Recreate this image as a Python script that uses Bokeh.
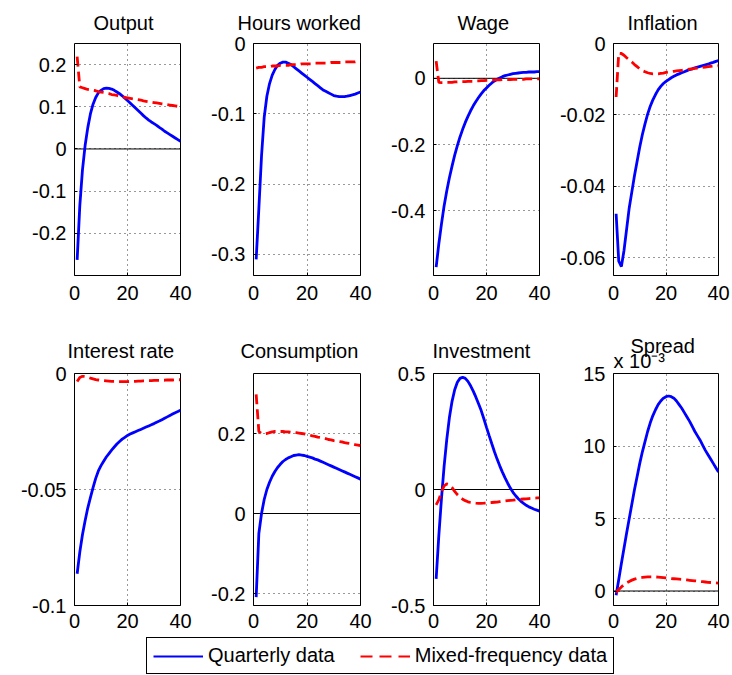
from bokeh.plotting import figure
from bokeh.models import Range1d, FixedTicker, Span, Legend, LegendItem, Title
from bokeh.layouts import column, row
from bokeh.embed import file_html
from bokeh.resources import INLINE

# ---------------- data ----------------
periods = list(range(1, 41))

titles = ["Output", "Hours worked", "Wage", "Inflation",
          "Interest rate", "Consumption", "Investment", "Spread"]

series_names = ["Quarterly data", "Mixed-frequency data"]

output_q = [-0.263, -0.135, -0.05, 0.008, 0.05, 0.083, 0.106, 0.122, 0.133, 0.139,
            0.143, 0.144, 0.1435, 0.142, 0.139, 0.135, 0.131, 0.126, 0.1205, 0.115,
            0.109, 0.103, 0.097, 0.091, 0.085, 0.079, 0.0735, 0.0685, 0.064, 0.060,
            0.056, 0.051, 0.047, 0.042, 0.038, 0.034, 0.030, 0.026, 0.022, 0.018]
output_m = [0.219, 0.147, 0.145, 0.143, 0.141, 0.140, 0.139, 0.138, 0.136, 0.135,
            0.134, 0.132, 0.131, 0.129, 0.128, 0.127, 0.125, 0.124, 0.122, 0.121,
            0.120, 0.119, 0.118, 0.117, 0.116, 0.114, 0.113, 0.112, 0.111, 0.110,
            0.109, 0.108, 0.107, 0.106, 0.105, 0.104, 0.103, 0.102, 0.101, 0.100]

hours_q = [-0.307, -0.235, -0.16, -0.105, -0.075, -0.057, -0.045, -0.037, -0.031, -0.028,
           -0.0265, -0.0265, -0.028, -0.030, -0.033, -0.036, -0.039, -0.042, -0.045, -0.048,
           -0.051, -0.054, -0.057, -0.060, -0.063, -0.066, -0.068, -0.070, -0.072, -0.074,
           -0.075, -0.0755, -0.0757, -0.0755, -0.075, -0.074, -0.073, -0.072, -0.0705, -0.069]
hours_m = [-0.035, -0.034, -0.034, -0.033, -0.033, -0.033, -0.032, -0.032, -0.032, -0.031,
           -0.031, -0.031, -0.031, -0.030, -0.030, -0.030, -0.030, -0.029, -0.029, -0.029,
           -0.029, -0.029, -0.028, -0.028, -0.028, -0.028, -0.028, -0.028, -0.027, -0.027,
           -0.027, -0.027, -0.027, -0.026, -0.026, -0.026, -0.026, -0.026, -0.025, -0.025]

wage_q = [-0.57, -0.50, -0.44, -0.385, -0.34, -0.30, -0.265, -0.232, -0.203, -0.177,
          -0.154, -0.133, -0.115, -0.098, -0.083, -0.070, -0.058, -0.047, -0.037, -0.029,
          -0.021, -0.014, -0.008, -0.003, 0.001, 0.005, 0.008, 0.010, 0.012, 0.014,
          0.015, 0.016, 0.017, 0.018, 0.018, 0.019, 0.019, 0.019, 0.020, 0.020]
wage_m = [0.052, -0.012, -0.013, -0.013, -0.012, -0.012, -0.012, -0.011, -0.011, -0.010,
          -0.010, -0.010, -0.009, -0.009, -0.009, -0.008, -0.008, -0.007, -0.007, -0.006,
          -0.006, -0.006, -0.005, -0.005, -0.005, -0.004, -0.004, -0.004, -0.004, -0.003,
          -0.003, -0.003, -0.003, -0.003, -0.002, -0.002, -0.002, -0.002, -0.002, -0.002]

infl_q = [-0.0477, -0.061, -0.0625, -0.058, -0.052, -0.046, -0.0415, -0.037, -0.033, -0.029,
          -0.0255, -0.0225, -0.0198, -0.0176, -0.0158, -0.0143, -0.013, -0.012, -0.0112, -0.0106,
          -0.0101, -0.0096, -0.0092, -0.0088, -0.0085, -0.0082, -0.0079, -0.0076, -0.0073, -0.0071,
          -0.0068, -0.0066, -0.0064, -0.0062, -0.0060, -0.0058, -0.0055, -0.0053, -0.0050, -0.0048]
infl_m = [-0.015, -0.0027, -0.0028, -0.0033, -0.0040, -0.0046, -0.0052, -0.0059, -0.0065, -0.0071,
          -0.0076, -0.0079, -0.0082, -0.0084, -0.0085, -0.0085, -0.0085, -0.0084, -0.0083, -0.0081,
          -0.0080, -0.0079, -0.0078, -0.0077, -0.0076, -0.0075, -0.0074, -0.0073, -0.0072, -0.0071,
          -0.0070, -0.0069, -0.0068, -0.0067, -0.0066, -0.0065, -0.0064, -0.0063, -0.0063, -0.0062]

rate_q = [-0.0863, -0.077, -0.0695, -0.0635, -0.058, -0.0535, -0.0492, -0.0452, -0.042, -0.0397,
          -0.0378, -0.036, -0.0345, -0.033, -0.0317, -0.0304, -0.0293, -0.0283, -0.0275, -0.0267,
          -0.0261, -0.0256, -0.0251, -0.0246, -0.0241, -0.0236, -0.0231, -0.0226, -0.0221, -0.0216,
          -0.0210, -0.0205, -0.0199, -0.0193, -0.0187, -0.0181, -0.0175, -0.0169, -0.0164, -0.0158]
rate_m = [-0.0035, -0.0017, -0.0012, -0.0013, -0.0016, -0.0020, -0.0023, -0.0026, -0.0028, -0.0030,
          -0.0031, -0.0032, -0.0033, -0.0034, -0.0034, -0.0035, -0.0035, -0.0035, -0.0035, -0.0035,
          -0.0034, -0.0034, -0.0034, -0.0033, -0.0033, -0.0032, -0.0032, -0.0031, -0.0031, -0.0030,
          -0.0030, -0.0030, -0.0029, -0.0029, -0.0028, -0.0028, -0.0028, -0.0027, -0.0027, -0.0027]

cons_q = [-0.209, -0.05, 0.0, 0.035, 0.060, 0.078, 0.093, 0.105, 0.115, 0.123,
          0.130, 0.135, 0.139, 0.142, 0.145, 0.146, 0.147, 0.146, 0.145, 0.143,
          0.141, 0.139, 0.136, 0.134, 0.131, 0.128, 0.125, 0.122, 0.119, 0.116,
          0.113, 0.110, 0.107, 0.104, 0.101, 0.098, 0.095, 0.092, 0.089, 0.086]
cons_m = [0.298, 0.205, 0.200, 0.199, 0.200, 0.202, 0.204, 0.205, 0.205, 0.205,
          0.205, 0.204, 0.204, 0.203, 0.203, 0.202, 0.201, 0.200, 0.199, 0.197,
          0.196, 0.194, 0.193, 0.191, 0.190, 0.188, 0.187, 0.185, 0.184, 0.182,
          0.181, 0.180, 0.179, 0.177, 0.176, 0.175, 0.174, 0.172, 0.171, 0.170]

inv_q = [-0.385, -0.20, -0.04, 0.10, 0.215, 0.31, 0.38, 0.43, 0.462, 0.479,
         0.484, 0.479, 0.466, 0.447, 0.424, 0.398, 0.370, 0.340, 0.305, 0.268,
         0.232, 0.197, 0.163, 0.131, 0.102, 0.075, 0.050, 0.027, 0.006, -0.012,
         -0.027, -0.040, -0.051, -0.060, -0.068, -0.075, -0.080, -0.085, -0.089, -0.093]
inv_m = [-0.066, -0.045, -0.010, 0.015, 0.024, 0.020, 0.008, -0.008, -0.022, -0.033,
         -0.042, -0.048, -0.053, -0.056, -0.058, -0.059, -0.0595, -0.0595, -0.059, -0.058,
         -0.057, -0.056, -0.055, -0.054, -0.0525, -0.051, -0.0495, -0.048, -0.047, -0.046,
         -0.0445, -0.043, -0.042, -0.041, -0.040, -0.039, -0.038, -0.037, -0.0365, -0.036]

# spread values in units of 10^-3
spread_q = [-0.3, 0.8, 1.9, 2.95, 4.0, 5.0, 6.0, 7.0, 7.9, 8.8,
            9.6, 10.3, 11.0, 11.6, 12.1, 12.5, 12.85, 13.1, 13.3, 13.4,
            13.45, 13.4, 13.3, 13.1, 12.85, 12.6, 12.3, 12.0, 11.7, 11.35,
            11.0, 10.7, 10.4, 10.05, 9.7, 9.4, 9.1, 8.8, 8.5, 8.2]
spread_m = [-0.1, 0.1, 0.28, 0.43, 0.56, 0.66, 0.75, 0.82, 0.87, 0.91,
            0.94, 0.96, 0.97, 0.98, 0.98, 0.97, 0.96, 0.94, 0.92, 0.90,
            0.88, 0.86, 0.845, 0.83, 0.815, 0.80, 0.78, 0.76, 0.74, 0.72,
            0.70, 0.68, 0.66, 0.64, 0.62, 0.60, 0.585, 0.57, 0.555, 0.54]

quarterly = [output_q, hours_q, wage_q, infl_q, rate_q, cons_q, inv_q, spread_q]
mixed = [output_m, hours_m, wage_m, infl_m, rate_m, cons_m, inv_m, spread_m]

y_limits = [(-0.3, 0.25), (-0.33, 0.0), (-0.595, 0.105), (-0.065, 0.0),
            (-0.1, 0.0), (-0.23, 0.35), (-0.5, 0.5), (-1.0, 15.0)]
y_ticks = [[-0.2, -0.1, 0, 0.1, 0.2], [-0.3, -0.2, -0.1, 0], [-0.4, -0.2, 0],
           [-0.06, -0.04, -0.02, 0], [-0.1, -0.05, 0], [-0.2, 0, 0.2],
           [-0.5, 0, 0.5], [0, 5, 10, 15]]
y_tick_labels = [["-0.2", "-0.1", "0", "0.1", "0.2"], ["-0.3", "-0.2", "-0.1", "0"],
                 ["-0.4", "-0.2", "0"], ["-0.06", "-0.04", "-0.02", "0"],
                 ["-0.1", "-0.05", "0"], ["-0.2", "0", "0.2"],
                 ["-0.5", "0", "0.5"], ["0", "5", "10", "15"]]
x_limits = (0, 40)
x_ticks = [0, 20, 40]
x_tick_labels = ["0", "20", "40"]
spread_scale = "x 10\u207b\u00b3"

# ---------------- style / layout ----------------
FONT = "Liberation Sans"
BLUE = "#0000ff"
RED = "#ff0000"
fig_w = [192, 180, 180, 180]
frame_left = [74, 61, 61, 61]
frame_w = [106, 107, 106, 105]
FRAME_H = 232
# horizontal start of each title relative to its frame's left edge (px)
title_x = [19, -16, 24, 14, -7, -13, -1, 17]


def style_axis(ax, standoff):
    ax.axis_line_color = None
    ax.major_tick_in = 3
    ax.major_tick_out = 0
    ax.major_tick_line_color = "black"
    ax.minor_tick_line_color = None
    ax.major_label_text_font = FONT
    ax.major_label_text_font_size = "20px"
    ax.major_label_text_color = "black"
    ax.major_label_standoff = standoff


def make_panel(i, top, bottom, xstandoff, tstandoff):
    col = i % 4
    yl = y_limits[i]
    p = figure(width=fig_w[col], height=top + FRAME_H + bottom,
               x_range=Range1d(*x_limits), y_range=Range1d(*yl),
               output_backend="svg", toolbar_location=None,
               min_border_left=frame_left[col],
               min_border_right=fig_w[col] - frame_left[col] - frame_w[col],
               min_border_top=top, min_border_bottom=bottom)
    p.background_fill_color = "white"
    p.border_fill_color = "white"
    p.outline_line_color = "black"
    p.outline_line_alpha = 1.0
    p.outline_line_width = 1

    p.xaxis.ticker = FixedTicker(ticks=x_ticks)
    p.xaxis.major_label_overrides = {t: s for t, s in zip(x_ticks, x_tick_labels)}
    p.yaxis.ticker = FixedTicker(ticks=y_ticks[i])
    p.yaxis.major_label_overrides = {t: s for t, s in zip(y_ticks[i], y_tick_labels[i])}
    style_axis(p.xaxis[0], xstandoff)
    style_axis(p.yaxis[0], 8)

    p.grid.grid_line_color = "black"
    p.grid.grid_line_alpha = 0.8
    p.grid.grid_line_dash = "1 4"
    p.grid.grid_line_width = 1

    p.add_layout(Span(location=0, dimension="width", line_color="black",
                      line_width=1, level="underlay"))

    p.line(periods, quarterly[i], line_color=BLUE, line_width=2.8)
    p.line(periods, mixed[i], line_color=RED, line_width=2.8, line_dash="10 5")

    p.title.text = titles[i]
    p.title.align = "left"
    p.title.offset = title_x[i]
    p.title.text_font = FONT
    p.title.text_font_size = "20px"
    p.title.text_font_style = "normal"
    p.title.text_color = "black"
    p.title.standoff = tstandoff
    if i == 7:
        p.add_layout(Title(text=spread_scale, align="left", offset=0, standoff=4,
                           text_font=FONT, text_font_size="20px",
                           text_font_style="normal", text_color="black"), "above")
        p.title.standoff = -22
    return p


row1 = [make_panel(i, 43, 40, 10, 19) for i in range(4)]
row2 = [make_panel(i, 58, 32, 8, 23) for i in range(4, 8)]

# legend strip
leg = figure(width=sum(fig_w), height=38, x_range=Range1d(0, 1), y_range=Range1d(0, 1),
             output_backend="svg", toolbar_location=None,
             x_axis_location=None, y_axis_location=None,
             min_border_left=0, min_border_right=0, min_border_top=0, min_border_bottom=0)
leg.grid.visible = False
leg.outline_line_color = None
leg.background_fill_color = "white"
leg.border_fill_color = "white"
rq = leg.line(periods, output_q, line_color=BLUE, line_width=2, visible=False)
rm = leg.line(periods, output_m, line_color=RED, line_width=2, line_dash="12 7", visible=False)
legend = Legend(items=[LegendItem(label=series_names[0], renderers=[rq]),
                       LegendItem(label=series_names[1], renderers=[rm])],
                orientation="horizontal", location=(146, 1),
                glyph_width=50, glyph_height=10, label_height=10, label_width=0,
                label_standoff=5, spacing=25, padding=6, margin=0,
                border_line_color="black", border_line_width=1, border_line_alpha=1,
                background_fill_color="white", background_fill_alpha=1,
                inactive_fill_alpha=0,
                label_text_font=FONT, label_text_font_size="20px", label_text_color="black")
leg.add_layout(legend)

layout = column(row(*row1), row(*row2), leg)

open("out.html", "w").write(file_html(layout, INLINE))
